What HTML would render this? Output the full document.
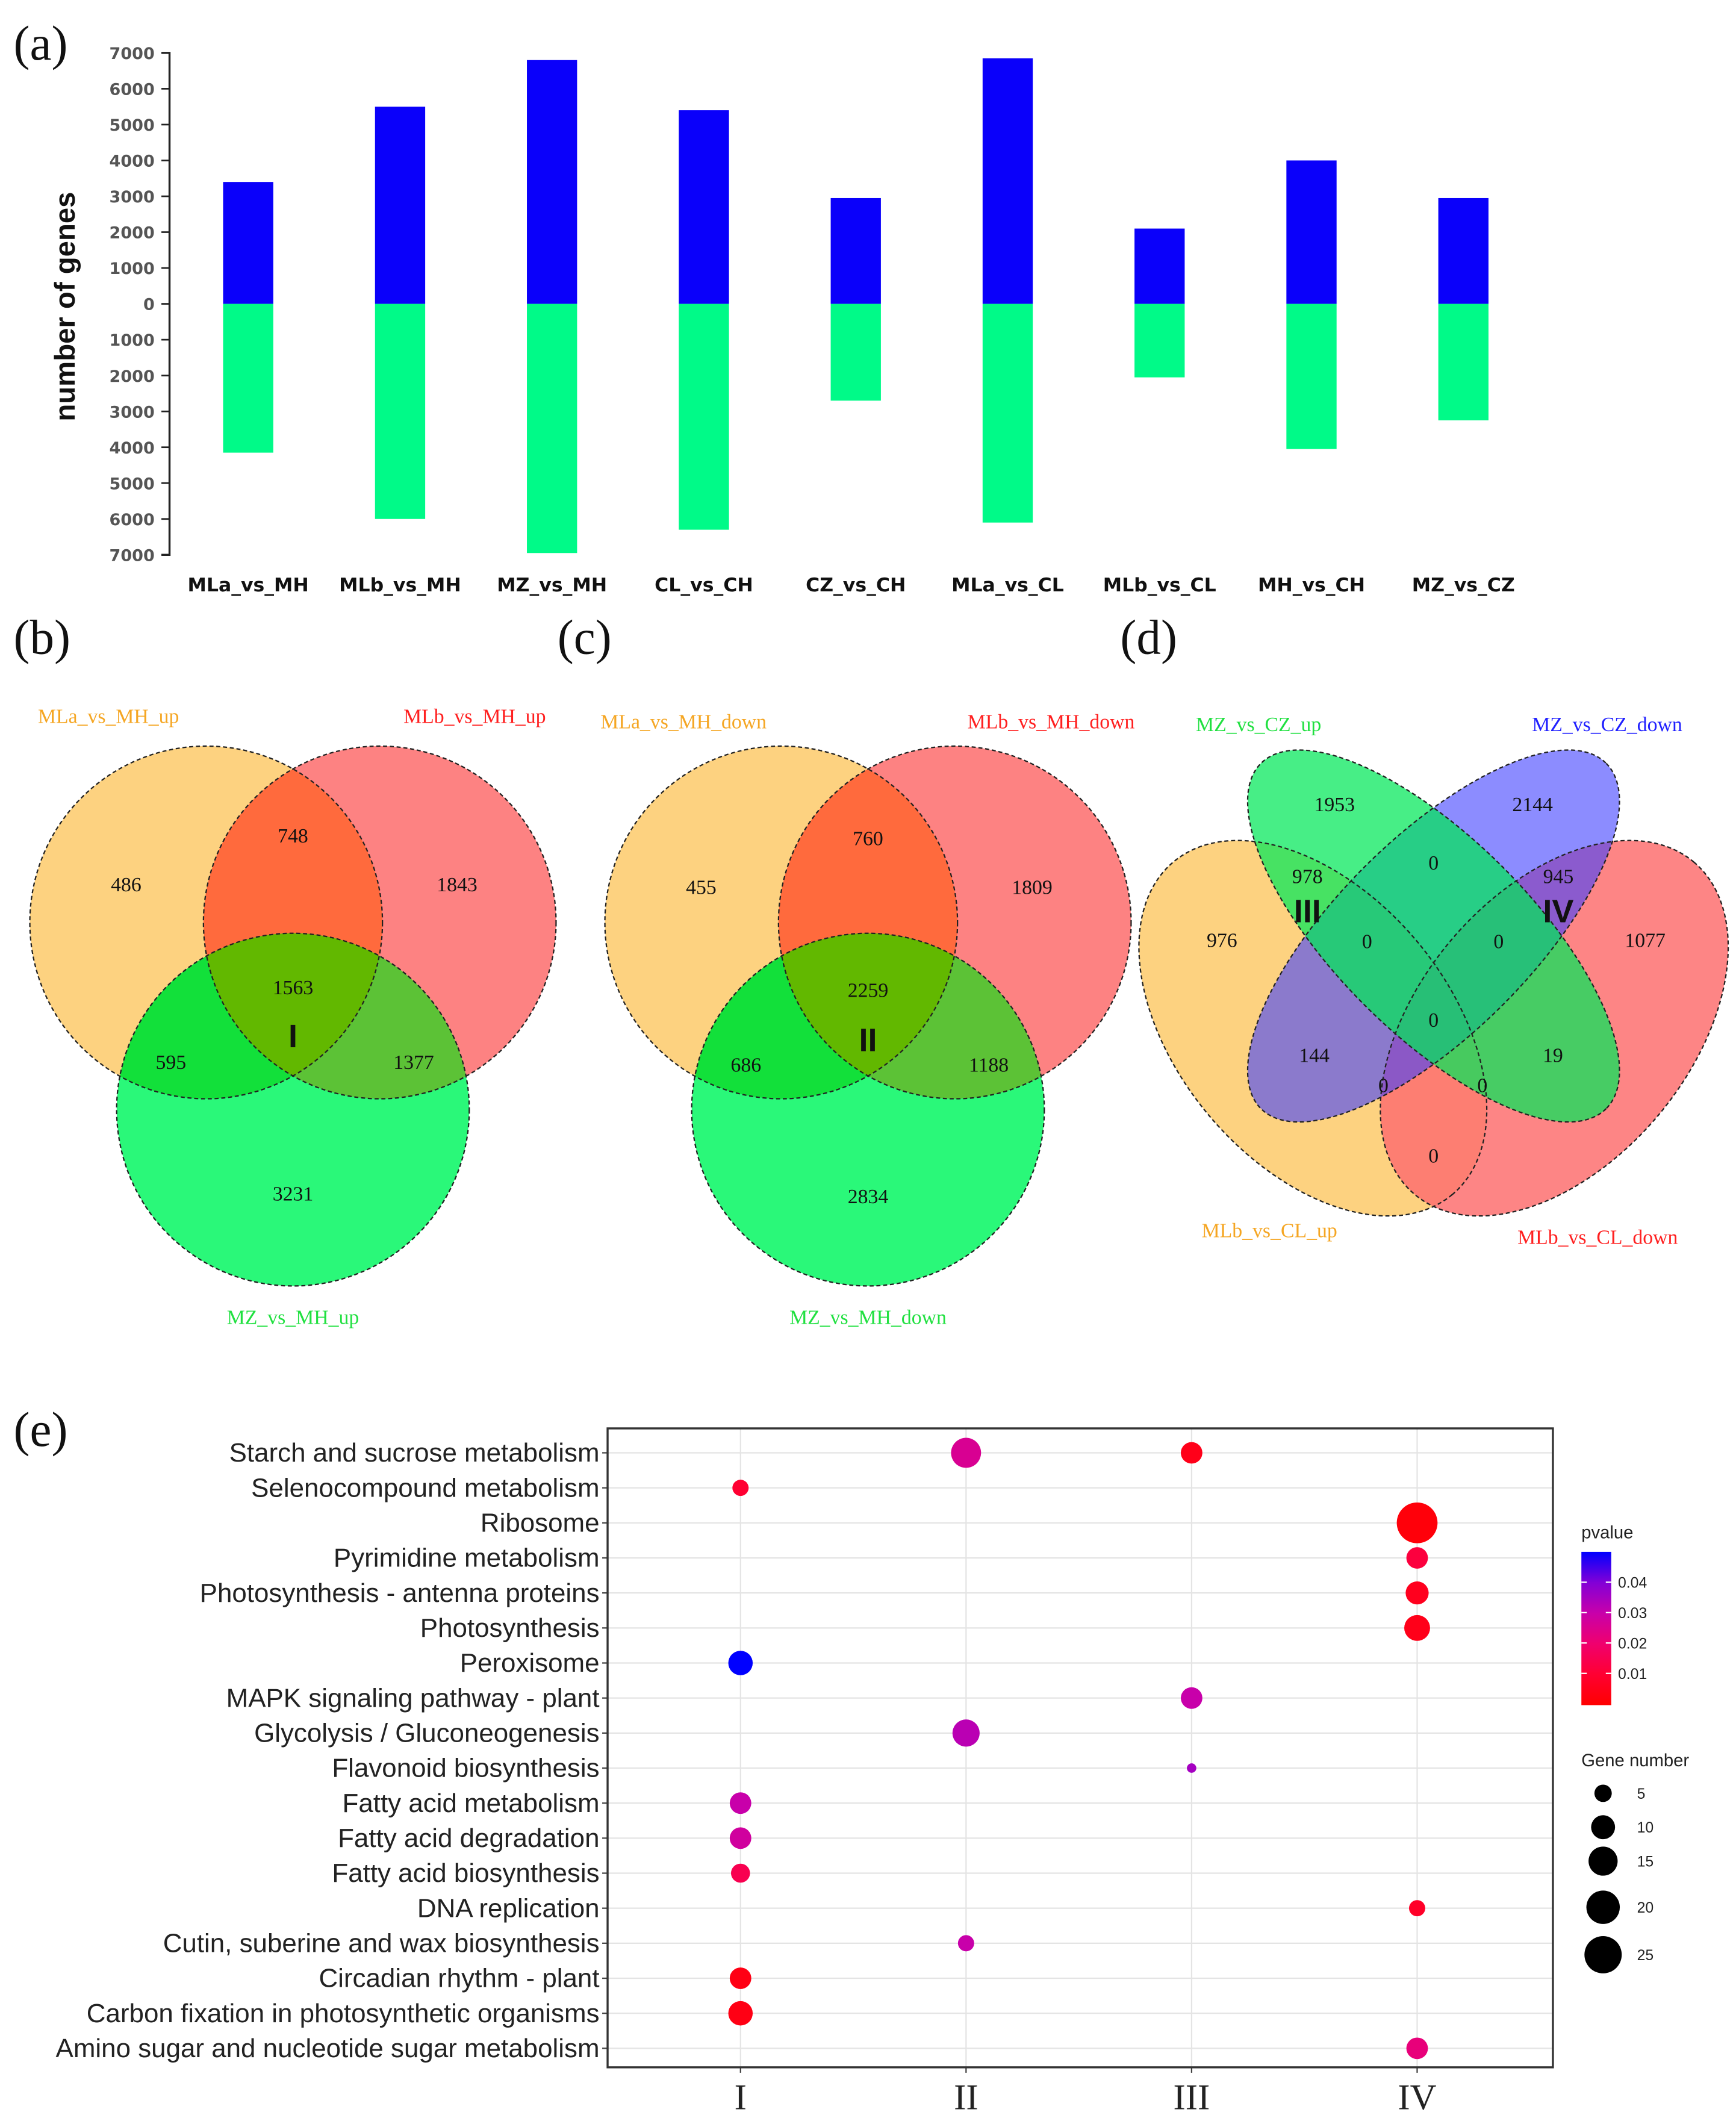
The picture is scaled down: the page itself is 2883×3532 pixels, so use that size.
<!DOCTYPE html>
<html><head><meta charset="utf-8"><style>
html,body{margin:0;padding:0;background:#fff}
svg{display:block}
</style></head><body>
<svg id="fig" width="2883" height="3532" viewBox="0 0 1280 1568" preserveAspectRatio="none" xmlns="http://www.w3.org/2000/svg">
<rect width="1280" height="1568" fill="#fff"/>
<g font-family="Liberation Serif, serif" font-size="36" fill="#111">
<text x="10" y="44">(a)</text>
<text x="10" y="482">(b)</text>
<text x="411" y="482">(c)</text>
<text x="826" y="482">(d)</text>
<text x="10" y="1066">(e)</text>
</g>
<g id="barChart"></g>

<!-- Venn b -->
<g font-family="Liberation Serif, serif" font-size="15">
<defs>
<clipPath id="cbY"><circle cx="152" cy="680" r="130"/></clipPath>
<clipPath id="cbR"><circle cx="280" cy="680" r="130"/></clipPath>
<clipPath id="ccY"><circle cx="576" cy="680" r="130"/></clipPath>
<clipPath id="ccR"><circle cx="704" cy="680" r="130"/></clipPath>
</defs>
<circle cx="152" cy="680" r="130" fill="#fdd280"/>
<circle cx="280" cy="680" r="130" fill="#fd8282"/>
<circle cx="280" cy="680" r="130" fill="#ff6a3d" clip-path="url(#cbY)"/>
<circle cx="216" cy="818" r="130" fill="#2af879"/>
<circle cx="216" cy="818" r="130" fill="#12e03a" clip-path="url(#cbY)"/>
<circle cx="216" cy="818" r="130" fill="#5cc236" clip-path="url(#cbR)"/>
<g clip-path="url(#cbY)"><circle cx="216" cy="818" r="130" fill="#62b800" clip-path="url(#cbR)"/></g>
<g fill="none" stroke="#222" stroke-dasharray="3,2" stroke-width="1">
<circle cx="152" cy="680" r="130"/><circle cx="280" cy="680" r="130"/><circle cx="216" cy="818" r="130"/></g>
<g text-anchor="middle" fill="#111">
<text x="93" y="657">486</text><text x="216" y="621">748</text><text x="337" y="657">1843</text>
<text x="216" y="733">1563</text><text x="126" y="788">595</text><text x="305" y="788">1377</text>
<text x="216" y="885">3231</text>
<text x="216" y="772" font-family="Liberation Sans, sans-serif" font-weight="bold" font-size="24">I</text>
<text x="80" y="533" fill="#f5a623">MLa_vs_MH_up</text>
<text x="350" y="533" fill="#ff2020">MLb_vs_MH_up</text>
<text x="216" y="976" fill="#20e040">MZ_vs_MH_up</text>
</g>
</g>

<!-- Venn c -->
<g font-family="Liberation Serif, serif" font-size="15">
<circle cx="576" cy="680" r="130" fill="#fdd280"/>
<circle cx="704" cy="680" r="130" fill="#fd8282"/>
<circle cx="704" cy="680" r="130" fill="#ff6a3d" clip-path="url(#ccY)"/>
<circle cx="640" cy="818" r="130" fill="#2af879"/>
<circle cx="640" cy="818" r="130" fill="#12e03a" clip-path="url(#ccY)"/>
<circle cx="640" cy="818" r="130" fill="#5cc236" clip-path="url(#ccR)"/>
<g clip-path="url(#ccY)"><circle cx="640" cy="818" r="130" fill="#62b800" clip-path="url(#ccR)"/></g>
<g fill="none" stroke="#222" stroke-dasharray="3,2" stroke-width="1">
<circle cx="576" cy="680" r="130"/><circle cx="704" cy="680" r="130"/><circle cx="640" cy="818" r="130"/></g>
<g text-anchor="middle" fill="#111">
<text x="517" y="659">455</text><text x="640" y="623">760</text><text x="761" y="659">1809</text>
<text x="640" y="735">2259</text><text x="550" y="790">686</text><text x="729" y="790">1188</text>
<text x="640" y="887">2834</text>
<text x="640" y="775" font-family="Liberation Sans, sans-serif" font-weight="bold" font-size="24">II</text>
<text x="504" y="537" fill="#f5a623">MLa_vs_MH_down</text>
<text x="775" y="537" fill="#ff2020">MLb_vs_MH_down</text>
<text x="640" y="976" fill="#20e040">MZ_vs_MH_down</text>
</g>
</g>

<!-- Venn d -->
<g font-family="Liberation Serif, serif" font-size="15">
<ellipse cx="968" cy="758" rx="160" ry="100" transform="rotate(50 968 758)" fill="#fdd280"/>
<ellipse cx="1146" cy="758" rx="160" ry="100" transform="rotate(-50 1146 758)" fill="#fd7070" fill-opacity="0.85"/>
<ellipse cx="1057" cy="690" rx="180" ry="72" transform="rotate(-45 1057 690)" fill="#4040ff" fill-opacity="0.6"/>
<ellipse cx="1057" cy="690" rx="180" ry="72" transform="rotate(45 1057 690)" fill="#00e858" fill-opacity="0.72"/>
<g fill="none" stroke="#222" stroke-dasharray="3,2" stroke-width="1">
<ellipse cx="968" cy="758" rx="160" ry="100" transform="rotate(50 968 758)"/>
<ellipse cx="1146" cy="758" rx="160" ry="100" transform="rotate(-50 1146 758)"/>
<ellipse cx="1057" cy="690" rx="180" ry="72" transform="rotate(45 1057 690)"/>
<ellipse cx="1057" cy="690" rx="180" ry="72" transform="rotate(-45 1057 690)"/>
</g>
<g text-anchor="middle" fill="#111">
<text x="984" y="598">1953</text><text x="1130" y="598">2144</text><text x="964" y="651">978</text>
<text x="1057" y="641">0</text><text x="1149" y="651">945</text><text x="901" y="698">976</text>
<text x="1008" y="699">0</text><text x="1105" y="699">0</text><text x="1213" y="698">1077</text>
<text x="1057" y="757">0</text><text x="969" y="783">144</text><text x="1145" y="783">19</text>
<text x="1020" y="805">0</text><text x="1093" y="805">0</text><text x="1057" y="857">0</text>
<text x="964" y="680" font-family="Liberation Sans, sans-serif" font-weight="bold" font-size="24">III</text>
<text x="1149" y="680" font-family="Liberation Sans, sans-serif" font-weight="bold" font-size="24">IV</text>
<text x="928" y="539" fill="#20e040">MZ_vs_CZ_up</text>
<text x="1185" y="539" fill="#2020ff">MZ_vs_CZ_down</text>
<text x="936" y="912" fill="#f5a623">MLb_vs_CL_up</text>
<text x="1178" y="917" fill="#ff2020">MLb_vs_CL_down</text>
</g>
</g>

<g id="dotChart"></g>
</svg>
<script>
const NS='http://www.w3.org/2000/svg';
function mk(parent,tag,attrs,text){const e=document.createElementNS(NS,tag);for(const k in attrs)e.setAttribute(k,attrs[k]);if(text!==undefined)e.textContent=text;parent.appendChild(e);return e;}

// ---- Panel (a) data ----
const barCategories=['MLa_vs_MH','MLb_vs_MH','MZ_vs_MH','CL_vs_CH','CZ_vs_CH','MLa_vs_CL','MLb_vs_CL','MH_vs_CH','MZ_vs_CZ'];
const upValues=[3400,5500,6800,5400,2950,6850,2100,4000,2950];
const downValues=[4150,6000,6950,6300,2700,6100,2050,4050,3250];
const barTicks=[7000,6000,5000,4000,3000,2000,1000,0,-1000,-2000,-3000,-4000,-5000,-6000,-7000];

const bc=document.getElementById('barChart');
const yA=v=>224-v*(185/7000);
const xA=i=>183+i*112;
const axisLine=mk(bc,'path',{d:`M119 ${yA(7000)} H125 V${yA(-7000)} H119`,fill:'none',stroke:'#222','stroke-width':1.5});


barTicks.forEach(t=>{
  mk(bc,'line',{x1:119,x2:125,y1:yA(t),y2:yA(t),stroke:'#222','stroke-width':1.2});
  const tl=mk(bc,'text',{x:114,y:yA(t)+4.5,'text-anchor':'end','font-family':'DejaVu Sans, sans-serif','font-size':12,'font-weight':'bold',fill:'#555'},String(Math.abs(t)));
  
  
});
const yt=mk(bc,'text',{x:0,y:0,transform:'translate(55 226) rotate(-90)','text-anchor':'middle','font-family':'Liberation Sans, sans-serif','font-size':21,'font-weight':'bold',fill:'#111'},'number of genes');


barCategories.forEach((c,i)=>{
  const x=xA(i)-18.5;
  const u=mk(bc,'rect',{x:x,y:yA(upValues[i]),width:37,height:yA(0)-yA(upValues[i]),fill:'#0a00fa'});
  
  
  const d=mk(bc,'rect',{x:x,y:yA(0),width:37,height:yA(-downValues[i])-yA(0),fill:'#00fa88'});
  
  
  const l=mk(bc,'text',{x:xA(i),y:436,'text-anchor':'middle','font-family':'DejaVu Sans, sans-serif','font-size':14,'font-weight':'bold',fill:'#111'},c);
  
  
});

// ---- Panel (e) data ----
const pathways=['Starch and sucrose metabolism','Selenocompound metabolism','Ribosome','Pyrimidine metabolism','Photosynthesis - antenna proteins','Photosynthesis','Peroxisome','MAPK signaling pathway - plant','Glycolysis / Gluconeogenesis','Flavonoid biosynthesis','Fatty acid metabolism','Fatty acid degradation','Fatty acid biosynthesis','DNA replication','Cutin, suberine and wax biosynthesis','Circadian rhythm - plant','Carbon fixation in photosynthetic organisms','Amino sugar and nucleotide sugar metabolism'];
const groups=['I','II','III','IV'];
const dotRow=[0,0,1,2,3,4,5,6,7,8,9,10,11,12,13,14,15,16,17];
const dotGroup=[1,2,0,3,3,3,3,0,2,1,2,0,0,0,3,1,0,0,3];
const dotGenes=[16,8,4.3,30,8,9.2,11.7,10.4,8,13,1.1,8,8,6.1,4.3,4.3,8,10.4,8];
const dotP=[0.026,0.005,0.01,0.002,0.012,0.006,0.005,0.05,0.03,0.032,0.035,0.03,0.028,0.015,0.008,0.03,0.004,0.004,0.022];
const pTicks=[0.04,0.03,0.02,0.01];
const sizeTicks=[5,10,15,20,25];

const dc=document.getElementById('dotChart');
const X0=448,X1=1145,Y0=1053,Y1=1524;
const yRow=r=>1071+r*(1510-1071)/17;
const xGrp=g=>546+g*166.3;
const rSize=n=>Math.sqrt(4+7.4*n);
function pColor(p){
  const st=[[0,[255,0,0]],[0.01,[255,0,50]],[0.02,[240,0,110]],[0.03,[200,0,170]],[0.04,[130,0,215]],[0.05,[0,0,255]]];
  p=Math.max(0,Math.min(0.05,p));
  for(let i=0;i<st.length-1;i++){if(p<=st[i+1][0]){const t=(p-st[i][0])/(st[i+1][0]-st[i][0]);const a=st[i][1],b=st[i+1][1];return `rgb(${a.map((v,k)=>Math.round(v+(b[k]-v)*t)).join(',')})`;}}
  return 'rgb(0,0,255)';
}
pathways.forEach((p,r)=>{
  mk(dc,'line',{x1:X0,x2:X1,y1:yRow(r),y2:yRow(r),stroke:'#e4e4e4','stroke-width':1});
  mk(dc,'line',{x1:X0-4,x2:X0,y1:yRow(r),y2:yRow(r),stroke:'#444','stroke-width':1});
  const t=mk(dc,'text',{x:X0-6,y:yRow(r)+6.5,'text-anchor':'end','font-family':'Liberation Sans, sans-serif','font-size':19.5,fill:'#222'},p);
  
  
});
groups.forEach((g,i)=>{
  mk(dc,'line',{x1:xGrp(i),x2:xGrp(i),y1:Y0,y2:Y1,stroke:'#e4e4e4','stroke-width':1});
  mk(dc,'line',{x1:xGrp(i),x2:xGrp(i),y1:Y1,y2:Y1+4,stroke:'#444','stroke-width':1});
  const t=mk(dc,'text',{x:xGrp(i),y:1555,'text-anchor':'middle','font-family':'Liberation Serif, serif','font-size':27,fill:'#222'},g);
  
  
});
const frame=mk(dc,'rect',{x:X0,y:Y0,width:X1-X0,height:Y1-Y0,fill:'none',stroke:'#333','stroke-width':1.5});


dotRow.forEach((r,i)=>{
  const c=mk(dc,'circle',{cx:xGrp(dotGroup[i]),cy:yRow(r),r:rSize(dotGenes[i]),fill:pColor(dotP[i])});
  
  
});
// legend
const defs=mk(dc,'defs',{});
const lg=mk(defs,'linearGradient',{id:'pg',x1:0,y1:0,x2:0,y2:1});
[[0,'#0000ff'],[0.2,'#8200d7'],[0.4,'#c800aa'],[0.6,'#f0006e'],[0.8,'#ff0032'],[1,'#ff0000']].forEach(s=>mk(lg,'stop',{offset:s[0],'stop-color':s[1]}));
const lt=mk(dc,'text',{x:1166,y:1134,'font-family':'Liberation Sans, sans-serif','font-size':13,fill:'#222'},'pvalue');


const cb=mk(dc,'rect',{x:1166,y:1144,width:22,height:113,fill:'url(#pg)'});


const yP=p=>1256-p*(112/0.05);
pTicks.forEach(p=>{
  mk(dc,'line',{x1:1166,x2:1170,y1:yP(p),y2:yP(p),stroke:'#fff','stroke-width':1});
  mk(dc,'line',{x1:1184,x2:1188,y1:yP(p),y2:yP(p),stroke:'#fff','stroke-width':1});
  const t=mk(dc,'text',{x:1193,y:yP(p)+4,'font-family':'Liberation Sans, sans-serif','font-size':11,fill:'#222'},p.toFixed(2));
  
  
});
const gt=mk(dc,'text',{x:1166,y:1302,'font-family':'Liberation Sans, sans-serif','font-size':13,fill:'#222'},'Gene number');


const sizeY=[1322,1347,1372,1406,1441];
sizeTicks.forEach((n,i)=>{
  const c=mk(dc,'circle',{cx:1182,cy:sizeY[i],r:rSize(n),fill:'#000'});
  
  
  const t=mk(dc,'text',{x:1207,y:sizeY[i]+4,'font-family':'Liberation Sans, sans-serif','font-size':11,fill:'#222'},String(n));
  
  
});
</script>
</body></html>
